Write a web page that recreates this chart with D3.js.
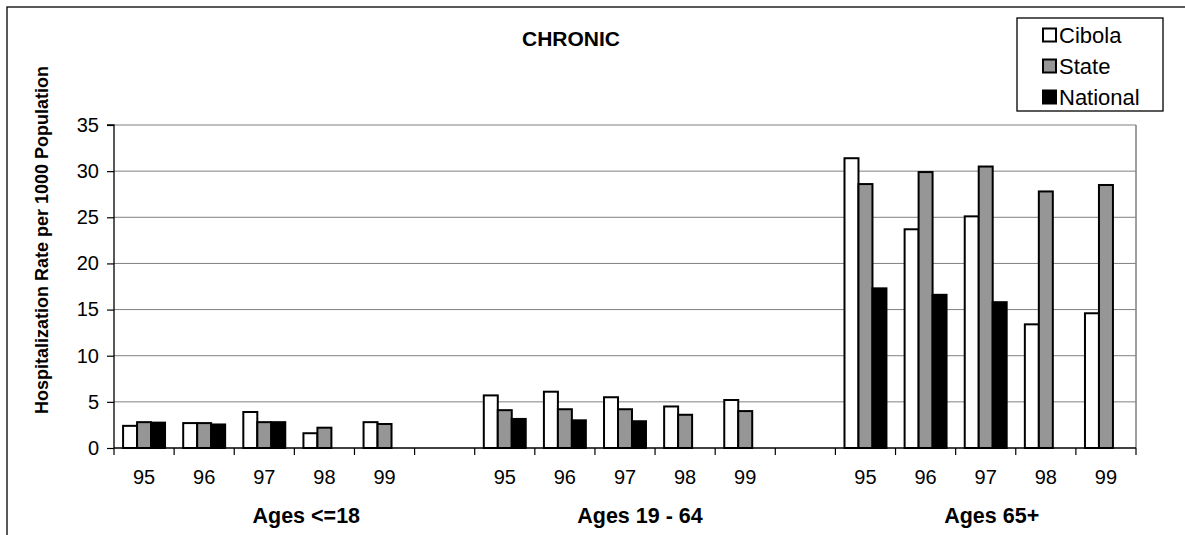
<!DOCTYPE html>
<html>
<head>
<meta charset="utf-8">
<script src="https://cdn.jsdelivr.net/npm/d3@7"></script>
<style>
  html, body { margin: 0; padding: 0; background: #fff; }
  text { font-family: Arial, "Liberation Sans", sans-serif; fill: #000; }
</style>
</head>
<body>
<svg id="chart" width="1185" height="535"></svg>
<script>
// ---- data ----
const title = "CHRONIC";
const yLabel = "Hospitalization Rate per 1000 Population";
const groups = ["Ages <=18", "Ages 19 - 64", "Ages 65+"];
const years = ["95", "96", "97", "98", "99"];
const seriesNames = ["Cibola", "State", "National"];
const yTicks = [0, 5, 10, 15, 20, 25, 30, 35];
// values per group, per year (order of years)
const cibola = [
  [2.4, 2.7, 3.9, 1.6, 2.8],
  [5.7, 6.1, 5.5, 4.5, 5.2],
  [31.4, 23.7, 25.1, 13.4, 14.6]
];
const state = [
  [2.8, 2.7, 2.8, 2.2, 2.6],
  [4.1, 4.2, 4.2, 3.6, 4.0],
  [28.6, 29.9, 30.5, 27.8, 28.5]
];
const national = [
  [2.75, 2.55, 2.8, null, null],
  [3.15, 3.0, 2.9, null, null],
  [17.3, 16.6, 15.8, null, null]
];

// ---- styles / layout ----
const colors = { Cibola: "#ffffff", State: "#969696", National: "#000000" };
const plot = { left: 114, right: 1136, top: 125, bottom: 448 };
const groupLabelOffset = [42, 15, 6];

const svg = d3.select("#chart");

// slot keys: years of each group, with a blank slot between groups
const slots = [];
groups.forEach((g, gi) => {
  years.forEach(yr => slots.push(g + "|" + yr));
  if (gi < groups.length - 1) slots.push("blank" + gi);
});

const x0 = d3.scaleBand().domain(slots).range([plot.left, plot.right]).padding(0);
const x1 = d3.scaleBand().domain(seriesNames).range([0, x0.bandwidth()]).paddingInner(0).paddingOuter(0.65);
const y = d3.scaleLinear().domain([0, 35]).range([plot.bottom, plot.top]);

// outer border
svg.append("rect").attr("x", 7).attr("y", 7).attr("width", 1200).attr("height", 600)
  .attr("fill", "none").attr("stroke", "#000").attr("stroke-width", 1.3);

// gridlines
svg.append("g").selectAll("line").data(yTicks.filter(t => t > 0)).join("line")
  .attr("x1", plot.left).attr("x2", plot.right)
  .attr("y1", d => y(d)).attr("y2", d => y(d))
  .attr("stroke", "#808080").attr("stroke-width", 1);
// right border of plot area
svg.append("line").attr("x1", plot.right).attr("x2", plot.right)
  .attr("y1", plot.top).attr("y2", plot.bottom)
  .attr("stroke", "#808080").attr("stroke-width", 1.5);

// bars
const barData = [];
groups.forEach((g, gi) => {
  years.forEach((yr, yi) => {
    const vals = { Cibola: cibola[gi][yi], State: state[gi][yi], National: national[gi][yi] };
    seriesNames.forEach(s => {
      if (vals[s] != null) barData.push({ slot: g + "|" + yr, series: s, value: vals[s] });
    });
  });
});
svg.append("g").selectAll("rect").data(barData).join("rect")
  .attr("x", d => x0(d.slot) + x1(d.series))
  .attr("width", x1.bandwidth())
  .attr("y", d => y(d.value))
  .attr("height", d => y(0) - y(d.value))
  .attr("fill", d => colors[d.series])
  .attr("stroke", "#000").attr("stroke-width", 2);

// y axis
const yAxis = d3.axisLeft(y).tickValues(yTicks).tickSize(7).tickPadding(8).tickFormat(d3.format("d"));
const gy = svg.append("g").attr("transform", `translate(${plot.left},0)`).call(yAxis);
gy.select(".domain").attr("stroke", "#000").attr("stroke-width", 1.3).attr("d", `M-7,${plot.top}H0V${plot.bottom}`);
gy.selectAll(".tick line").attr("stroke", "#000").attr("stroke-width", 1.2);
gy.selectAll("text").attr("font-size", 20).attr("font-family", "Arial, 'Liberation Sans', sans-serif").attr("fill", "#000");

// x axis line and ticks at slot boundaries
const boundaries = slots.map(s => x0(s)).concat([plot.right]);
svg.append("line").attr("x1", plot.left).attr("x2", plot.right)
  .attr("y1", plot.bottom).attr("y2", plot.bottom)
  .attr("stroke", "#000").attr("stroke-width", 1.3);
svg.append("g").selectAll("line").data(boundaries).join("line")
  .attr("x1", d => d).attr("x2", d => d)
  .attr("y1", plot.bottom).attr("y2", plot.bottom + 7)
  .attr("stroke", "#000").attr("stroke-width", 1.2);

// x tick labels
const yearLabels = [];
groups.forEach(g => years.forEach(yr => yearLabels.push({ slot: g + "|" + yr, label: yr })));
svg.append("g").selectAll("text").data(yearLabels).join("text")
  .attr("x", d => x0(d.slot) + x0.bandwidth() / 2)
  .attr("y", 484)
  .attr("text-anchor", "middle")
  .attr("font-size", 20)
  .text(d => d.label);

// group labels
svg.append("g").selectAll("text").data(groups).join("text")
  .attr("x", (g, i) => x0(g + "|" + years[2]) + x0.bandwidth() / 2 + groupLabelOffset[i])
  .attr("y", 523)
  .attr("text-anchor", "middle")
  .attr("font-size", 21.5)
  .attr("font-weight", "bold")
  .text(d => d);

// title
svg.append("text").attr("x", 571).attr("y", 46).attr("text-anchor", "middle")
  .attr("font-size", 21).attr("font-weight", "bold").text(title);

// y label
svg.append("text").attr("transform", "translate(48,240) rotate(-90)")
  .attr("text-anchor", "middle").attr("font-size", 18).attr("font-weight", "bold").text(yLabel);

// legend
const lg = svg.append("g");
lg.append("rect").attr("x", 1017).attr("y", 18).attr("width", 146).attr("height", 93)
  .attr("fill", "#fff").attr("stroke", "#000").attr("stroke-width", 1.3);
const rowY = d3.scalePoint().domain(seriesNames).range([35, 97]);
const items = lg.selectAll("g.item").data(seriesNames).join("g").attr("class", "item");
items.append("rect").attr("x", 1043).attr("y", d => rowY(d) - 6.5).attr("width", 13).attr("height", 13)
  .attr("fill", d => colors[d]).attr("stroke", "#000").attr("stroke-width", 2);
items.append("text").attr("x", 1059).attr("y", d => rowY(d) + 8).attr("font-size", 22).text(d => d);
</script>
</body>
</html>
